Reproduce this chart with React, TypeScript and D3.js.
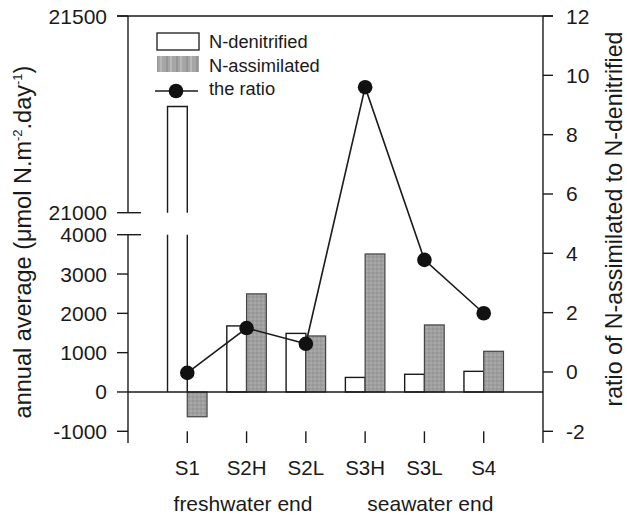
import React from "react";
import * as d3 from "d3";

const categories = ["S1", "S2H", "S2L", "S3H", "S3L", "S4"];
const denitrified = [21270, 1680, 1490, 370, 450, 525];
const assimilated = [-630, 2495, 1425, 3510, 1705, 1035];
const ratio = [-0.03, 1.48, 0.95, 9.6, 3.78, 1.98];
const leftLowerTicks = [-1000, 0, 1000, 2000, 3000, 4000];
const leftUpperTicks = [21000, 21500];
const rightTicks = [-2, 0, 2, 4, 6, 8, 10, 12];
const legendLabels = ["N-denitrified", "N-assimilated", "the ratio"];
const groupLabels = [
  { text: "freshwater end", pos: 1.94 },
  { text: "seawater end", pos: 5.1 },
];

const W = 627;
const H = 517;
const FONT = "'Liberation Sans', Arial, Helvetica, sans-serif";
const INK = "#1a1a1a";

export default function App() {
  const x = d3.scaleLinear().domain([0, 7]).range([128, 543]);
  const yLow = d3.scaleLinear().domain([-1000, 4000]).range([431.3, 234.7]);
  const yUp = d3.scaleLinear().domain([21000, 21500]).range([212.7, 16]);
  const yR = d3.scaleLinear().domain([-2, 12]).range([431.3, 16]);
  const step = x(1) - x(0);
  const bw = step / 3;
  const axisBottom = 443;
  const lineGen = d3
    .line<number>()
    .x((_, i) => x(i + 1))
    .y((d) => yR(d));

  return (
    <svg
      width={W}
      height={H}
      style={{ position: "absolute", left: 0, top: 0, background: "#fff" }}
      fontFamily={FONT}
    >
      <defs>
        <pattern id="gray" width="4" height="4" patternUnits="userSpaceOnUse">
          <rect width="4" height="4" fill="#9f9f9f" />
          <rect width="2" height="2" fill="#969696" />
          <rect x="2" y="2" width="2" height="2" fill="#a8a8a8" />
        </pattern>
        <pattern id="grayLeg" width="10" height="10" patternUnits="userSpaceOnUse">
          <rect width="10" height="10" fill="#a6a6a6" />
          <rect width="2" height="10" fill="#b8b8b8" />
          <rect x="6" width="2" height="10" fill="#959595" />
        </pattern>
      </defs>

      {/* bars */}
      {categories.map((c, i) => {
        const cx = x(i + 1);
        const v = denitrified[i];
        const x0 = cx - bw;
        const x1 = cx;
        if (v > 4000) {
          return (
            <g key={"d" + c}>
              <rect x={x0} y={yUp(v)} width={bw} height={yUp(21000) - yUp(v)} fill="#fff" />
              <rect x={x0} y={yLow(4000)} width={bw} height={yLow(0) - yLow(4000)} fill="#fff" />
              <path
                d={`M${x0},${yUp(21000)}V${yUp(v)}H${x1}V${yUp(21000)}`}
                fill="none"
                stroke={INK}
                strokeWidth={1.4}
              />
              <path
                d={`M${x0},${yLow(4000)}V${yLow(0)}M${x1},${yLow(4000)}V${yLow(0)}`}
                fill="none"
                stroke={INK}
                strokeWidth={1.4}
              />
            </g>
          );
        }
        return (
          <rect
            key={"d" + c}
            x={x0}
            y={yLow(v)}
            width={bw}
            height={yLow(0) - yLow(v)}
            fill="#fff"
            stroke={INK}
            strokeWidth={1.4}
          />
        );
      })}
      {categories.map((c, i) => {
        const cx = x(i + 1);
        const v = assimilated[i];
        const top = Math.min(yLow(v), yLow(0));
        const h = Math.abs(yLow(v) - yLow(0));
        return (
          <rect
            key={"a" + c}
            x={cx}
            y={top}
            width={bw}
            height={h}
            fill="url(#gray)"
            stroke="#444"
            strokeWidth={1.2}
          />
        );
      })}

      {/* zero line */}
      <line x1={x(0)} x2={x(7)} y1={yLow(0)} y2={yLow(0)} stroke={INK} strokeWidth={1.4} />

      {/* ratio line */}
      <path d={lineGen(ratio) || ""} fill="none" stroke={INK} strokeWidth={1.6} />
      {ratio.map((r, i) => (
        <circle key={"r" + i} cx={x(i + 1)} cy={yR(r)} r={7.3} fill="#111" />
      ))}

      {/* top line */}
      <line x1={117} x2={553} y1={yUp(21500)} y2={yUp(21500)} stroke={INK} strokeWidth={1.4} />

      {/* left axis */}
      <line x1={x(0)} x2={x(0)} y1={yUp(21500)} y2={yUp(21000)} stroke={INK} strokeWidth={1.4} />
      <line x1={x(0)} x2={x(0)} y1={yLow(4000)} y2={axisBottom} stroke={INK} strokeWidth={1.4} />
      {leftUpperTicks.map((t) => (
        <g key={"lu" + t}>
          <line
            x1={117}
            x2={t === 21000 ? 141 : x(0)}
            y1={yUp(t)}
            y2={yUp(t)}
            stroke={INK}
            strokeWidth={1.4}
          />
          <text x={107} y={yUp(t) + 7.5} textAnchor="end" fontSize={21} fill={INK}>
            {t}
          </text>
        </g>
      ))}
      {leftLowerTicks.map((t) => (
        <g key={"ll" + t}>
          <line
            x1={117}
            x2={t === 4000 ? 141 : x(0)}
            y1={yLow(t)}
            y2={yLow(t)}
            stroke={INK}
            strokeWidth={1.4}
          />
          <text x={107} y={yLow(t) + 7.5} textAnchor="end" fontSize={21} fill={INK}>
            {t}
          </text>
        </g>
      ))}

      {/* right axis */}
      <line x1={x(7)} x2={x(7)} y1={yR(12)} y2={axisBottom} stroke={INK} strokeWidth={1.4} />
      {rightTicks.map((t) => (
        <g key={"rt" + t}>
          <line x1={x(7)} x2={553} y1={yR(t)} y2={yR(t)} stroke={INK} strokeWidth={1.4} />
          <text x={566} y={yR(t) + 7.5} textAnchor="start" fontSize={21} fill={INK}>
            {t}
          </text>
        </g>
      ))}

      {/* x ticks */}
      {categories.map((c, i) => (
        <g key={"xt" + c}>
          <line
            x1={x(i + 1)}
            x2={x(i + 1)}
            y1={yLow(-1000)}
            y2={axisBottom}
            stroke={INK}
            strokeWidth={1.4}
          />
          <text x={x(i + 1)} y={475} textAnchor="middle" fontSize={20.5} fill={INK}>
            {c}
          </text>
        </g>
      ))}
      {groupLabels.map((g) => (
        <text key={g.text} x={x(g.pos)} y={511} textAnchor="middle" fontSize={21} fill={INK}>
          {g.text}
        </text>
      ))}

      {/* axis titles */}
      <text
        transform={`translate(31,242) rotate(-90)`}
        textAnchor="middle"
        fontSize={23.5}
        fill={INK}
      >
        annual average (μmol N.m
        <tspan fontSize={13} dy={-9}>-2</tspan>
        <tspan dy={9}>.day</tspan>
        <tspan fontSize={13} dy={-9}>-1</tspan>
        <tspan dy={9}>)</tspan>
      </text>
      <text
        transform={`translate(622,219) rotate(-90)`}
        textAnchor="middle"
        fontSize={23.2}
        fill={INK}
      >
        ratio of N-assimilated to N-denitrified
      </text>

      {/* legend */}
      <rect x={157} y={33} width={42} height={17} fill="#fff" stroke={INK} strokeWidth={1.3} />
      <rect x={157} y={56} width={42} height={16} fill="url(#grayLeg)" />
      <line x1={155} x2={198} y1={91} y2={91} stroke={INK} strokeWidth={1.6} />
      <circle cx={176} cy={91} r={7.3} fill="#111" />
      {legendLabels.map((l, i) => (
        <text key={l} x={209} y={48 + i * 23.5} fontSize={18.3} fill={INK}>
          {l}
        </text>
      ))}
    </svg>
  );
}
